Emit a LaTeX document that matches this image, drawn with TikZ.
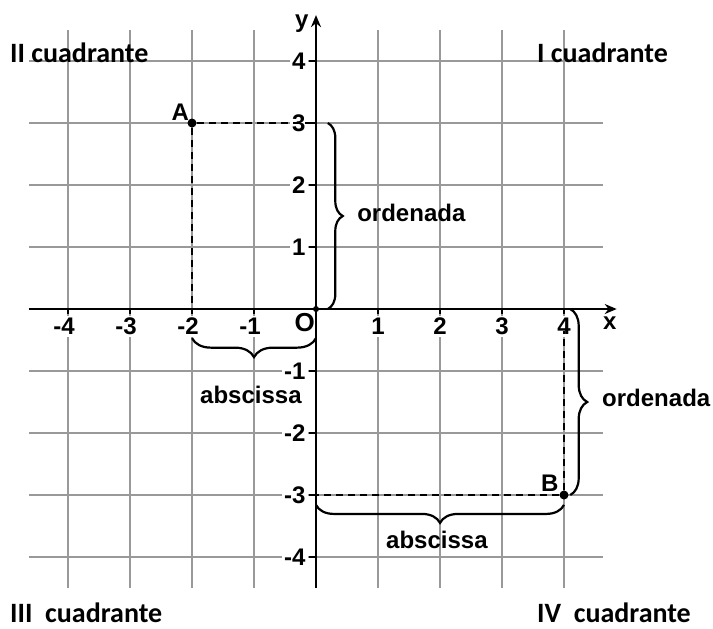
\documentclass[tikz,border=0pt]{standalone}
\usepackage{fontspec}
\setmainfont{Liberation Sans}
\newfontfamily\quadfont{Carlito}
\usetikzlibrary{decorations.pathreplacing,arrows.meta}
\begin{document}
\begin{tikzpicture}[x=31pt,y=31pt,
  gridline/.style={gray!80, line width=0.6pt},
  axisline/.style={black, line width=1.3pt, -{Stealth[length=6pt,width=5pt]}},
  ticklab/.style={font=\bfseries\fontsize{12}{14}\selectfont, inner sep=1pt, fill=white},
  lab/.style={font=\bfseries\fontsize{12}{14}\selectfont, inner sep=0pt},
  quad/.style={font=\quadfont\bfseries\fontsize{14}{16}\selectfont, inner sep=0pt, anchor=base west},
  dashline/.style={black, line width=1.4pt, dash pattern=on 3.5pt off 2.5pt},
  bracestyle/.style={black, line width=1.1pt, decorate, decoration={brace, amplitude=#1}},
  dot/.style={circle, fill=black, inner sep=0pt, minimum size=4.5pt}]
\useasboundingbox (-5.097,-5.145) rectangle (6.403,4.984);
% grid
\foreach \i in {-4,...,4} {
  \draw[gridline] (-4.63,\i) -- (4.63,\i);
  \draw[gridline] (\i,-4.5) -- (\i,4.5);
}
% tick labels
\foreach \i in {1,...,4} {
  \node[ticklab, anchor=north] at (\i,-0.11) {\i};
  \node[ticklab, anchor=north] at (-\i,-0.11) {\llap{-}\i};
  \node[ticklab, anchor=east] at (-0.13,\i) {\i};
  \node[ticklab, anchor=east] at (-0.13,-\i) {-\i};
}
% axes
\coordinate (xs) at (-4.63,0);
\coordinate (xe) at (4.85,0);
\coordinate (ys) at (0,-4.5);
\coordinate (ye) at (0,4.74);
\draw[axisline] (xs) -- (xe);
\draw[axisline] (ys) -- (ye);
\foreach \i in {-4,...,4} {
  \draw[black, line width=1pt] (\i,0) -- (\i,-0.08);
  \draw[black, line width=1pt] (0,\i) -- (-0.11,\i);
}
\node[lab] (xl) at (4.74,-0.23) {x};
\node[lab] (yl) at (-0.23,4.61) {y};
\node[lab, font=\bfseries\fontsize{13}{15}\selectfont] (ol) at (-0.18,-0.22) {O};
\node[dot, minimum size=3pt] (o) at (0,0) {};
% points
\node[dot] (A) at (-2,3) {};
\node[dot] (B) at (4,-3) {};
\node[lab] (Al) at (-2.19,3.18) {A};
\node[lab] (Bl) at (3.77,-2.81) {B};
\coordinate (Ay) at (0,3);
\coordinate (Ax) at (-2,0);
\coordinate (By) at (0,-3);
\coordinate (Bx) at (4,-0.36);
\draw[dashline] (A) -- (Ay);
\draw[dashline] (A) -- (Ax);
\draw[dashline] (B) -- (By);
\draw[dashline] (B) -- (Bx);
% braces
\coordinate (b1s) at (0.19,3);
\coordinate (b1e) at (0.19,0);
\draw[bracestyle=7.5pt] (b1s) -- (b1e);
\coordinate (b2s) at (0,-0.47);
\coordinate (b2e) at (-2,-0.47);
\draw[bracestyle=9.5pt] (b2s) -- (b2e);
\coordinate (b3s) at (4.1,0);
\coordinate (b3e) at (4.1,-3);
\draw[bracestyle=8.5pt] (b3s) -- (b3e);
\coordinate (b4s) at (4,-3.16);
\coordinate (b4e) at (0,-3.16);
\draw[bracestyle=9pt] (b4s) -- (b4e);
\node[lab, anchor=west] (ordA) at (0.66,1.55) {ordenada};
\node[lab] (absA) at (-1.05,-1.39) {abscissa};
\node[lab, anchor=west] (ordB) at (4.61,-1.44) {ordenada};
\node[lab] (absB) at (1.95,-3.73) {abscissa};
% quadrants
\node[quad] (q2) at (-4.94,3.98) {II cuadrante};
\node[quad] (q1) at (3.56,3.98) {I cuadrante};
\node[quad] (q3) at (-4.94,-5.06) {III\ \ cuadrante};
\node[quad] (q4) at (3.56,-5.06) {IV\ \ cuadrante};
\end{tikzpicture}
\end{document}
